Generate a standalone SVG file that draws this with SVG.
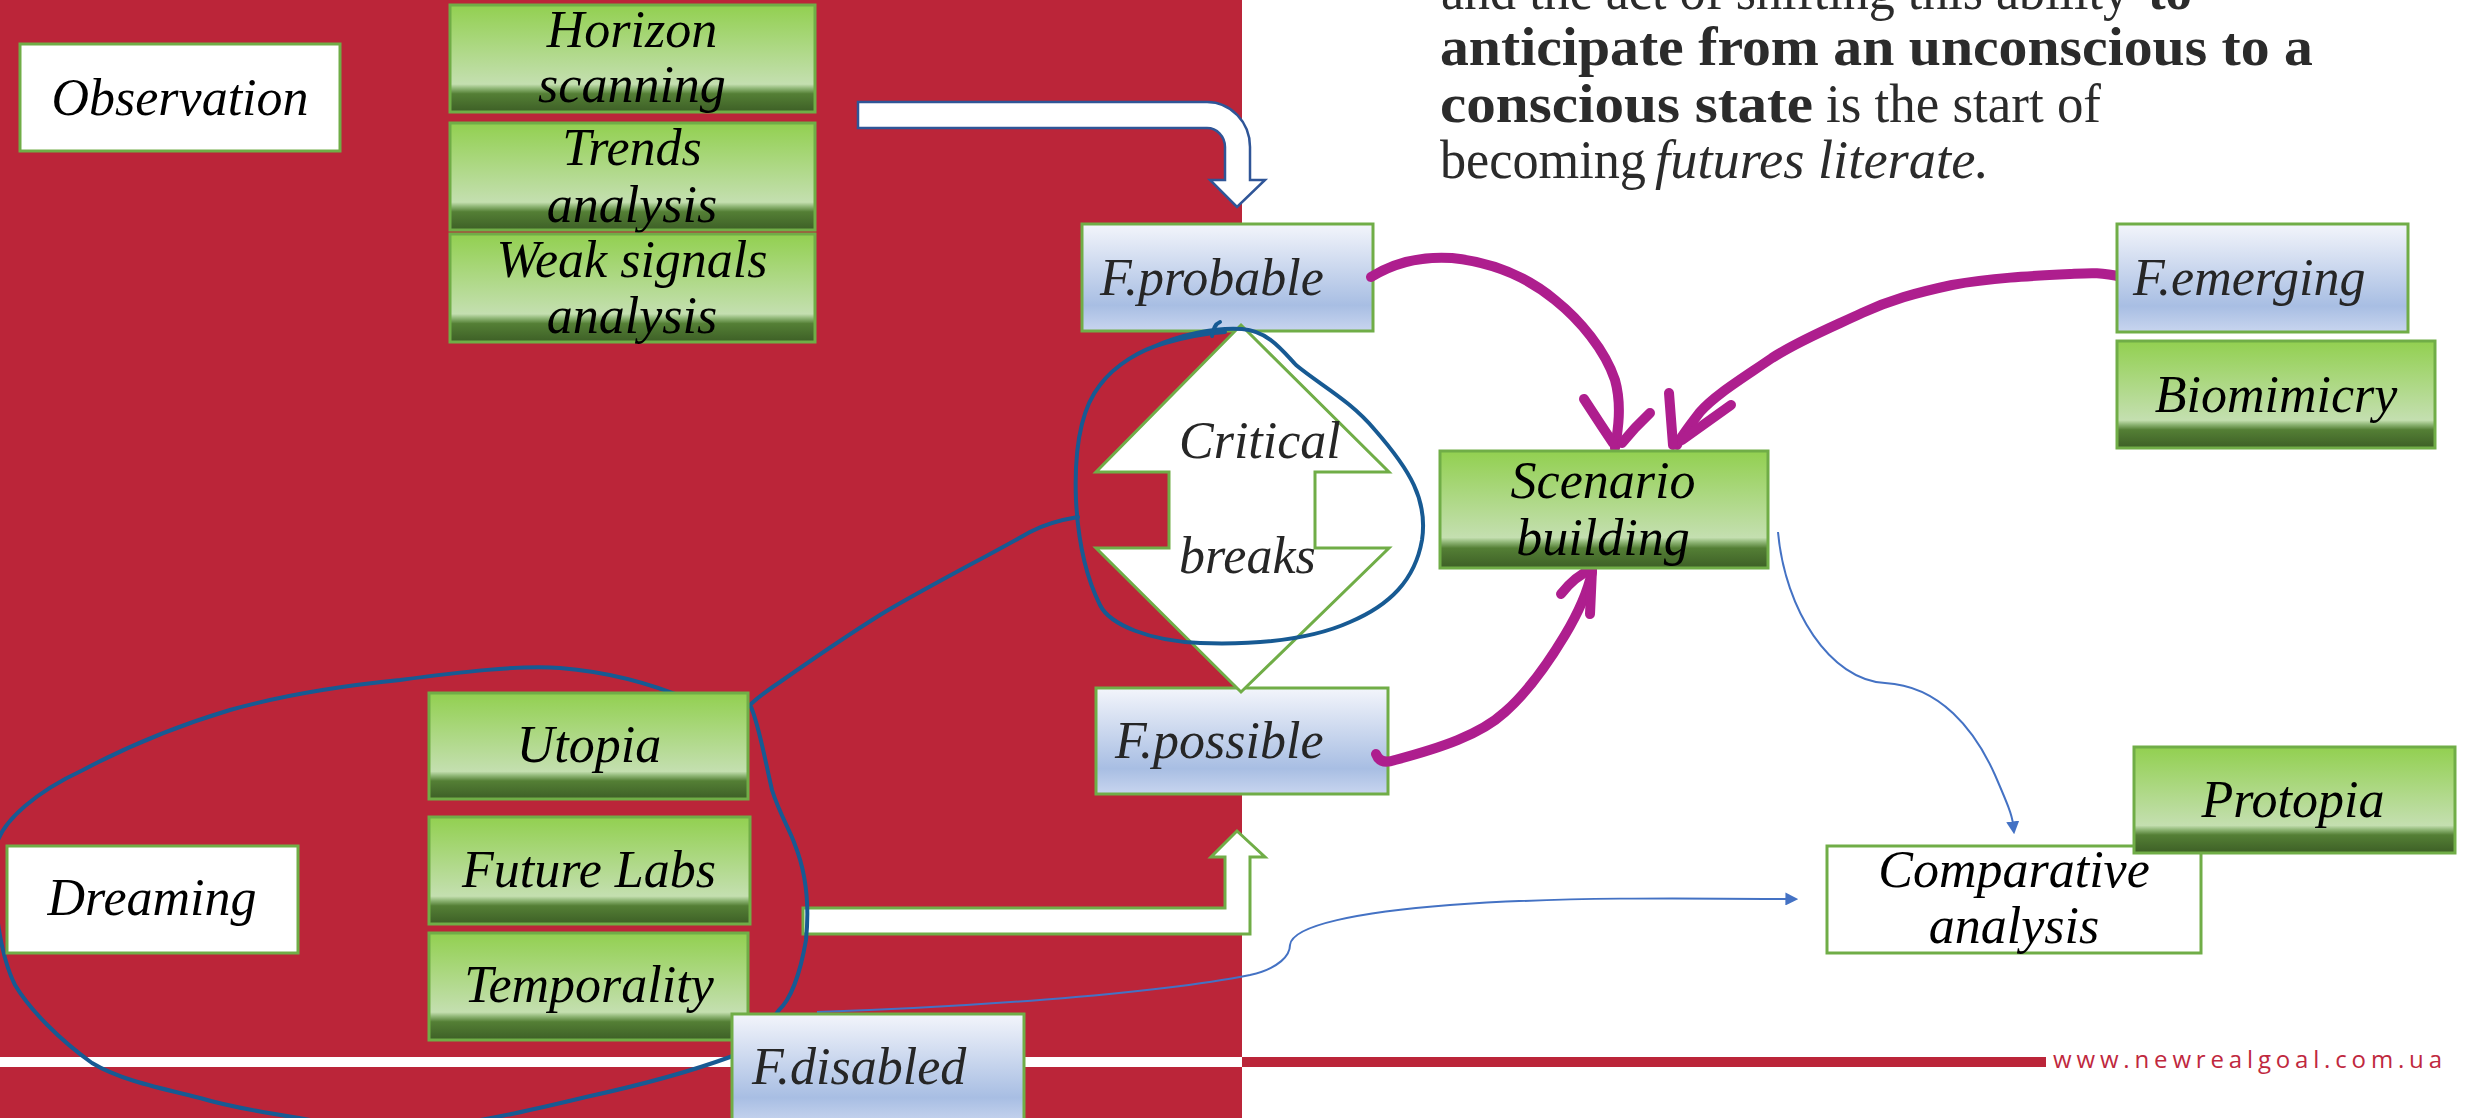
<svg xmlns="http://www.w3.org/2000/svg" width="2465" height="1118" viewBox="0 0 2465 1118">
<defs>
<linearGradient id="gGreen" x1="0" y1="0" x2="0" y2="1">
<stop offset="0" stop-color="#92D050"/>
<stop offset="0.74" stop-color="#C4DFB0"/>
<stop offset="0.78" stop-color="#8FB676"/>
<stop offset="0.83" stop-color="#547F35"/>
<stop offset="1" stop-color="#3D5F26"/>
</linearGradient>
<linearGradient id="gBlue" x1="0" y1="0" x2="0" y2="1">
<stop offset="0" stop-color="#F3F5FB"/>
<stop offset="0.76" stop-color="#A8BEE3"/>
<stop offset="1" stop-color="#C8D5EF"/>
</linearGradient>
<marker id="arrBlue" viewBox="0 0 10 10" refX="2" refY="5" markerWidth="6.5" markerHeight="6.5" orient="auto" markerUnits="strokeWidth">
<path d="M0,0 L10,5 L0,10 Z" fill="#4472C4"/>
</marker>
<style>
.box{stroke:#70AD47;stroke-width:3}
.green{fill:url(#gGreen)}
.blue{fill:url(#gBlue)}
.white{fill:#FFFFFF}
.lbl{font-family:"Liberation Serif",serif;font-style:italic;font-size:52px;fill:#000}
.lblg{font-family:"Liberation Serif",serif;font-style:italic;font-size:52px;fill:#262626}
.mid{text-anchor:middle}
.para{font-family:"Liberation Serif",serif;font-size:54px;fill:#2B2B2B}
.b{font-weight:bold}
.i{font-style:italic}
.lasso{fill:none;stroke:#175A93;stroke-width:4;stroke-linecap:round;stroke-linejoin:round}
.mag{fill:none;stroke:#AE1E8E;stroke-width:10;stroke-linecap:round;stroke-linejoin:round}
.thin{fill:none;stroke:#4472C4;stroke-width:2}
</style>
</defs>

<!-- background -->
<rect x="0" y="0" width="1242" height="1118" fill="#BB2539"/>
<rect x="0" y="1057" width="1242" height="10" fill="#FFFFFF"/>
<rect x="1242" y="1057" width="804" height="10" fill="#BB2539"/>
<text x="2053" y="1068" textLength="389" lengthAdjust="spacing" font-family="'Open Sans',sans-serif" font-size="24" fill="#C0283E">www.newrealgoal.com.ua</text>

<g id="paragraph" class="para">
<text y="9"><tspan x="1441" textLength="688" lengthAdjust="spacingAndGlyphs">and the act of shifting this ability</tspan><tspan class="b" x="2148" textLength="44" lengthAdjust="spacingAndGlyphs">to</tspan></text>
<text y="65" class="b" x="1440" textLength="873" lengthAdjust="spacingAndGlyphs">anticipate from an unconscious to a</text>
<text y="122"><tspan class="b" x="1440" textLength="373" lengthAdjust="spacingAndGlyphs">conscious state</tspan><tspan x="1826" textLength="275" lengthAdjust="spacingAndGlyphs">is the start of</tspan></text>
<text y="178"><tspan x="1440" textLength="206" lengthAdjust="spacingAndGlyphs">becoming</tspan><tspan class="i" x="1655" textLength="334" lengthAdjust="spacingAndGlyphs">futures literate.</tspan></text>
</g>

<g id="fprobable">
<rect class="box blue" x="1082" y="224" width="291" height="107"/>
<text class="lblg" x="1100" y="295">F.probable</text>
</g>
<g id="fpossible">
<rect class="box blue" x="1096" y="688" width="292" height="106"/>
<text class="lblg" x="1115" y="758">F.possible</text>
</g>

<g id="critical-breaks">
<path class="box white" d="M1241,325 L1389,472 H1315 V548 H1389 L1241,692 L1096,548 H1169 V472 H1096 Z"/>
<text class="lblg" x="1179" y="458">Critical</text>
<text class="lblg" x="1179" y="573">breaks</text>
</g>

<g id="connectors">
<path d="M858,102 H1207 A43,45 0 0 1 1250,147 V180 H1265 L1237,207 L1210,180 H1225 V147 A18,19 0 0 0 1207,128 H858 Z" fill="#FFFFFF" stroke="#2F5597" stroke-width="2.5"/>
<path d="M803,908 H1225 V857 H1211 L1237,831 L1265,857 H1250 V934 H803 Z" fill="#FFFFFF" stroke="#70AD47" stroke-width="3"/>
<path class="lasso" d="M1153,347 C1180,335 1215,327 1242,329 C1268,331 1282,350 1296,365 C1320,385 1350,400 1375,430 C1410,470 1428,500 1422,540 C1415,580 1390,605 1350,622 C1310,640 1260,645 1200,643 C1150,641 1110,625 1100,605 C1085,575 1078,540 1076,500 C1074,450 1080,410 1100,385 C1115,365 1140,350 1165,343 C1190,336 1210,333 1225,332"/>
<path class="lasso" stroke-width="2.5" d="M1212,336 C1214,328 1215,324 1220,322"/>
<path class="lasso" d="M1078,517 C1060,520 1045,524 1030,532 C990,555 930,585 880,615 C840,640 800,668 780,682 C765,692 755,700 750,705 C758,720 765,760 772,790 C780,815 790,830 795,845 C805,870 810,900 806,940 C800,975 790,1000 779,1010 C765,1030 745,1050 730,1057 C700,1068 650,1083 586,1097 C540,1108 490,1120 440,1126 C390,1130 330,1124 299,1118 C260,1112 230,1107 200,1098 C160,1088 120,1080 92,1063 C60,1040 30,1010 15,985 C0,955 -8,900 -5,850 C0,820 40,790 83,770 C130,745 180,725 230,710 C290,693 350,685 400,680 C460,672 520,665 560,668 C610,672 650,683 690,700"/>
<path class="thin" marker-end="url(#arrBlue)" d="M1778,532 C1785,610 1830,680 1885,683 C1940,686 1975,730 1995,775 C2008,805 2012,815 2013,824"/>
<path class="thin" marker-end="url(#arrBlue)" d="M817,1012 C950,1008 1150,995 1250,975 C1280,968 1290,955 1290,945 C1292,925 1360,912 1450,905 C1560,897 1680,898 1788,899"/>
<path class="mag" d="M1371,277 C1395,262 1420,256 1452,258 C1490,262 1525,275 1555,300 C1580,320 1605,350 1615,380 C1622,405 1618,430 1615,448"/>
<path class="mag" d="M1584,399 L1601,425 L1613,443"/>
<path class="mag" d="M1650,413 L1635,428 L1622,443"/>
<path class="mag" d="M2122,277 C2100,272 2090,273 2070,274 C2030,276 1990,278 1952,285 C1915,293 1890,300 1862,313 C1830,328 1800,340 1772,358 C1740,380 1715,395 1700,412 C1688,428 1680,438 1677,445"/>
<path class="mag" d="M1669,393 L1673,445"/>
<path class="mag" d="M1731,405 L1682,440"/>
<path class="mag" d="M1376,754 Q1380,765 1395,760 C1440,748 1480,735 1505,712 C1530,690 1550,660 1565,635 C1580,610 1588,590 1592,572"/>
<path class="mag" d="M1561,594 Q1575,576 1592,569 L1590,614"/>
</g>

<g id="observation">
<rect class="box white" x="20" y="44" width="320" height="107"/>
<text class="lbl mid" x="180" y="115">Observation</text>
</g>
<g id="horizon-scanning">
<rect class="box green" x="450" y="5" width="365" height="107"/>
<text class="lbl mid" x="632" y="47">Horizon</text>
<text class="lbl mid" x="632" y="102">scanning</text>
</g>
<g id="trends-analysis">
<rect class="box green" x="450" y="123" width="365" height="107"/>
<text class="lbl mid" x="632" y="165">Trends</text>
<text class="lbl mid" x="632" y="222">analysis</text>
</g>
<g id="weak-signals">
<rect class="box green" x="450" y="234" width="365" height="108"/>
<text class="lbl mid" x="632" y="277">Weak signals</text>
<text class="lbl mid" x="632" y="333">analysis</text>
</g>
<g id="femerging">
<rect class="box blue" x="2117" y="224" width="291" height="108"/>
<text class="lblg" x="2133" y="295">F.emerging</text>
</g>
<g id="biomimicry">
<rect class="box green" x="2117" y="341" width="318" height="107"/>
<text class="lbl mid" x="2276" y="412">Biomimicry</text>
</g>
<g id="scenario-building">
<rect class="box green" x="1440" y="451" width="328" height="117"/>
<text class="lbl mid" x="1603" y="498">Scenario</text>
<text class="lbl mid" x="1603" y="555">building</text>
</g>
<g id="dreaming">
<rect class="box white" x="7" y="846" width="291" height="107"/>
<text class="lbl mid" x="152" y="915">Dreaming</text>
</g>
<g id="utopia">
<rect class="box green" x="429" y="693" width="319" height="106"/>
<text class="lbl mid" x="589" y="762">Utopia</text>
</g>
<g id="future-labs">
<rect class="box green" x="429" y="817" width="321" height="107"/>
<text class="lbl mid" x="589" y="887">Future Labs</text>
</g>
<g id="temporality">
<rect class="box green" x="429" y="933" width="319" height="107"/>
<text class="lbl mid" x="589" y="1002">Temporality</text>
</g>
<g id="fdisabled">
<rect class="box blue" x="732" y="1014" width="292" height="110"/>
<text class="lblg" x="752" y="1084">F.disabled</text>
</g>
<g id="comparative-analysis">
<rect class="box white" x="1827" y="846" width="374" height="107"/>
<text class="lbl mid" x="2014" y="887">Comparative</text>
<text class="lbl mid" x="2014" y="943">analysis</text>
</g>
<g id="protopia">
<rect class="box green" x="2134" y="747" width="321" height="106"/>
<text class="lbl mid" x="2293" y="817">Protopia</text>
</g>
</svg>
